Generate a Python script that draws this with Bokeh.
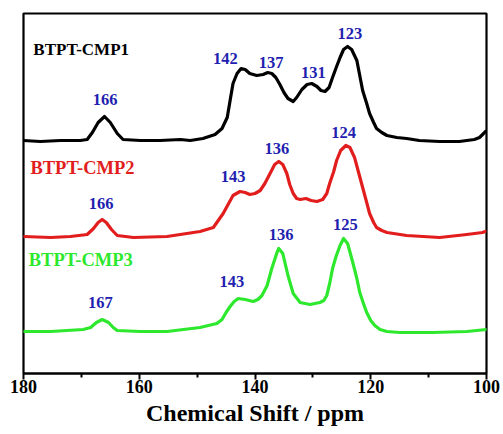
from bokeh.plotting import figure
from bokeh.models import Range1d, FixedTicker, ColumnDataSource
from bokeh.core.properties import value
from bokeh.embed import file_html
from bokeh.resources import INLINE

# ---- data (ppm, stacked intensity) ----
cmp1_ppm = [180.0, 177.1, 173.6, 170.2, 169.0, 168.1, 167.1, 166.0, 165.0, 163.8, 162.8, 159.8,
            156.4, 152.9, 151.2, 149.0, 146.9, 145.7, 144.8, 144.3, 143.8, 143.1, 142.4, 141.7,
            140.9, 139.7, 138.6, 137.8, 137.1, 136.4, 135.7, 135.0, 134.3, 133.4, 132.8, 131.9,
            131.0, 130.2, 129.3, 128.6, 127.9, 127.2, 126.6, 125.9, 125.3, 124.7, 124.0, 123.3,
            122.4, 121.9, 121.4, 120.7, 120.2, 119.5, 119.0, 118.1, 117.2, 115.5, 113.8, 111.6,
            108.1, 104.7, 102.1, 101.2, 100.5, 100.2]
cmp1_int = [233, 232, 233, 233, 234, 241, 251, 257, 251, 240, 234, 233,
            233, 234, 233, 235, 239, 245, 256, 273, 290, 300, 305, 304,
            300, 298, 299, 301, 300, 296, 289, 281, 275, 272, 276, 284,
            289, 290, 287, 283, 282, 286, 296, 307, 316, 324, 327, 324,
            313, 298, 283, 270, 260, 251, 245, 241, 238, 236, 235, 233,
            232, 232, 234, 236, 240, 242]

cmp2_ppm = [180.0, 175.3, 171.9, 169.0, 167.9, 167.1, 166.4, 165.7, 164.8, 163.8, 161.0, 155.2,
            149.5, 147.2, 145.5, 143.8, 142.6, 141.7, 140.9, 140.0, 139.1, 138.3, 137.4, 136.6,
            135.9, 135.2, 134.5, 134.0, 133.4, 132.8, 132.2, 131.2, 130.3, 129.3, 128.3, 127.6,
            127.1, 126.4, 125.9, 125.2, 124.3, 123.6, 122.8, 122.1, 121.4, 120.7, 120.2, 119.5,
            119.0, 118.1, 117.2, 113.8, 108.1, 103.4, 100.7, 100.2]
cmp2_int = [137, 136, 137, 139, 145, 151, 154, 151, 144, 138, 136, 137,
            142, 146, 160, 178, 182, 181, 179, 180, 183, 190, 200, 209,
            212, 209, 200, 189, 180, 175, 174, 175, 173, 172, 174, 180,
            190, 202, 213, 223, 228, 226, 216, 201, 186, 171, 160, 151,
            146, 143, 141, 138, 136, 139, 141, 142]

cmp3_ppm = [180.0, 175.3, 169.7, 168.4, 167.4, 166.4, 165.3, 164.5, 163.8, 159.8, 155.2, 149.5,
            146.6, 145.7, 145.0, 144.3, 143.6, 142.9, 141.7, 140.3, 139.5, 138.8, 137.9, 137.1,
            136.2, 135.9, 135.2, 134.3, 133.4, 132.2, 130.5, 128.8, 128.1, 127.6, 127.1, 126.6,
            126.0, 125.3, 124.7, 124.0, 123.1, 122.4, 121.9, 121.2, 120.7, 120.0, 119.3, 118.4,
            117.2, 115.0, 109.3, 103.4, 100.0]
cmp3_int = [42, 42, 44, 46, 51, 54, 51, 46, 43, 42, 42, 46,
            50, 54, 61, 67, 72, 75, 74, 72, 74, 78, 88, 105,
            121, 125, 120, 98, 80, 71, 69, 71, 73, 78, 90, 105,
            117, 128, 135, 130, 111, 95, 81, 69, 61, 53, 48, 44,
            42, 41, 41, 42, 44]

series_names = ["BTPT-CMP1", "BTPT-CMP2", "BTPT-CMP3"]
x_ticks = [180, 160, 140, 120, 100]
x_minor = [170, 150, 130, 110]

# peak annotations: text, ppm, intensity
peak_text = ["166", "142", "137", "131", "123",
             "166", "143", "136", "124",
             "167", "143", "136", "125"]
peak_x = [165.9, 145.1, 137.2, 129.9, 123.6,
          166.6, 143.8, 136.2, 124.7,
          166.7, 144.0, 135.5, 124.4]
peak_y = [274, 315, 311, 301, 340,
          170, 197, 225, 241,
          71, 92, 139, 149]

name_x = [178.3, 178.8, 179.1]
name_y = [324, 206, 114]

colors = ["#000000", "#e21d1d", "#2ee82e"]
name_sizes = ["17px", "18.5px", "18.5px"]
font = "Liberation Serif"

p = figure(width=503, height=434, output_backend="svg", toolbar_location=None,
           x_range=Range1d(180, 100), y_range=Range1d(0, 360),
           y_axis_location=None, min_border_left=23, min_border_right=17,
           min_border_top=13, min_border_bottom=61)
p.grid.visible = False
p.outline_line_color = "black"
p.outline_line_width = 2.2
p.background_fill_color = "white"
p.border_fill_color = "white"

for xs, ys, c in zip([cmp1_ppm, cmp2_ppm, cmp3_ppm], [cmp1_int, cmp2_int, cmp3_int], colors):
    p.line(xs, ys, line_color=c, line_width=3.2, line_join="round", line_cap="round")

for name, nx, ny, c, fs in zip(series_names, name_x, name_y, colors, name_sizes):
    p.text(x=[nx], y=[ny], text=[name], text_color=c, text_font=value(font),
           text_font_style="bold", text_font_size=fs, text_align="left", text_baseline="middle")

src = ColumnDataSource(dict(x=peak_x, y=peak_y, t=peak_text))
p.text(x="x", y="y", text="t", source=src, text_color="#1f1fb0", text_font=value(font),
       text_font_style="bold", text_font_size="16.5px", text_align="center", text_baseline="middle")

ax = p.xaxis[0]
ax.ticker = FixedTicker(ticks=x_ticks, minor_ticks=x_minor)
ax.axis_label = "Chemical Shift / ppm"
ax.axis_label_text_font = font
ax.axis_label_text_font_style = "bold"
ax.axis_label_text_font_size = "24px"
ax.axis_label_text_color = "black"
ax.axis_label_standoff = 4
ax.major_label_text_font = font
ax.major_label_text_font_style = "bold"
ax.major_label_text_font_size = "18px"
ax.major_label_text_color = "black"
ax.major_label_standoff = 0
ax.axis_line_width = 2.2
ax.major_tick_line_width = 2
ax.minor_tick_line_width = 2
ax.major_tick_in = 0
ax.major_tick_out = 6
ax.minor_tick_in = 0
ax.minor_tick_out = 4

open("out.html", "w").write(file_html(p, INLINE))
